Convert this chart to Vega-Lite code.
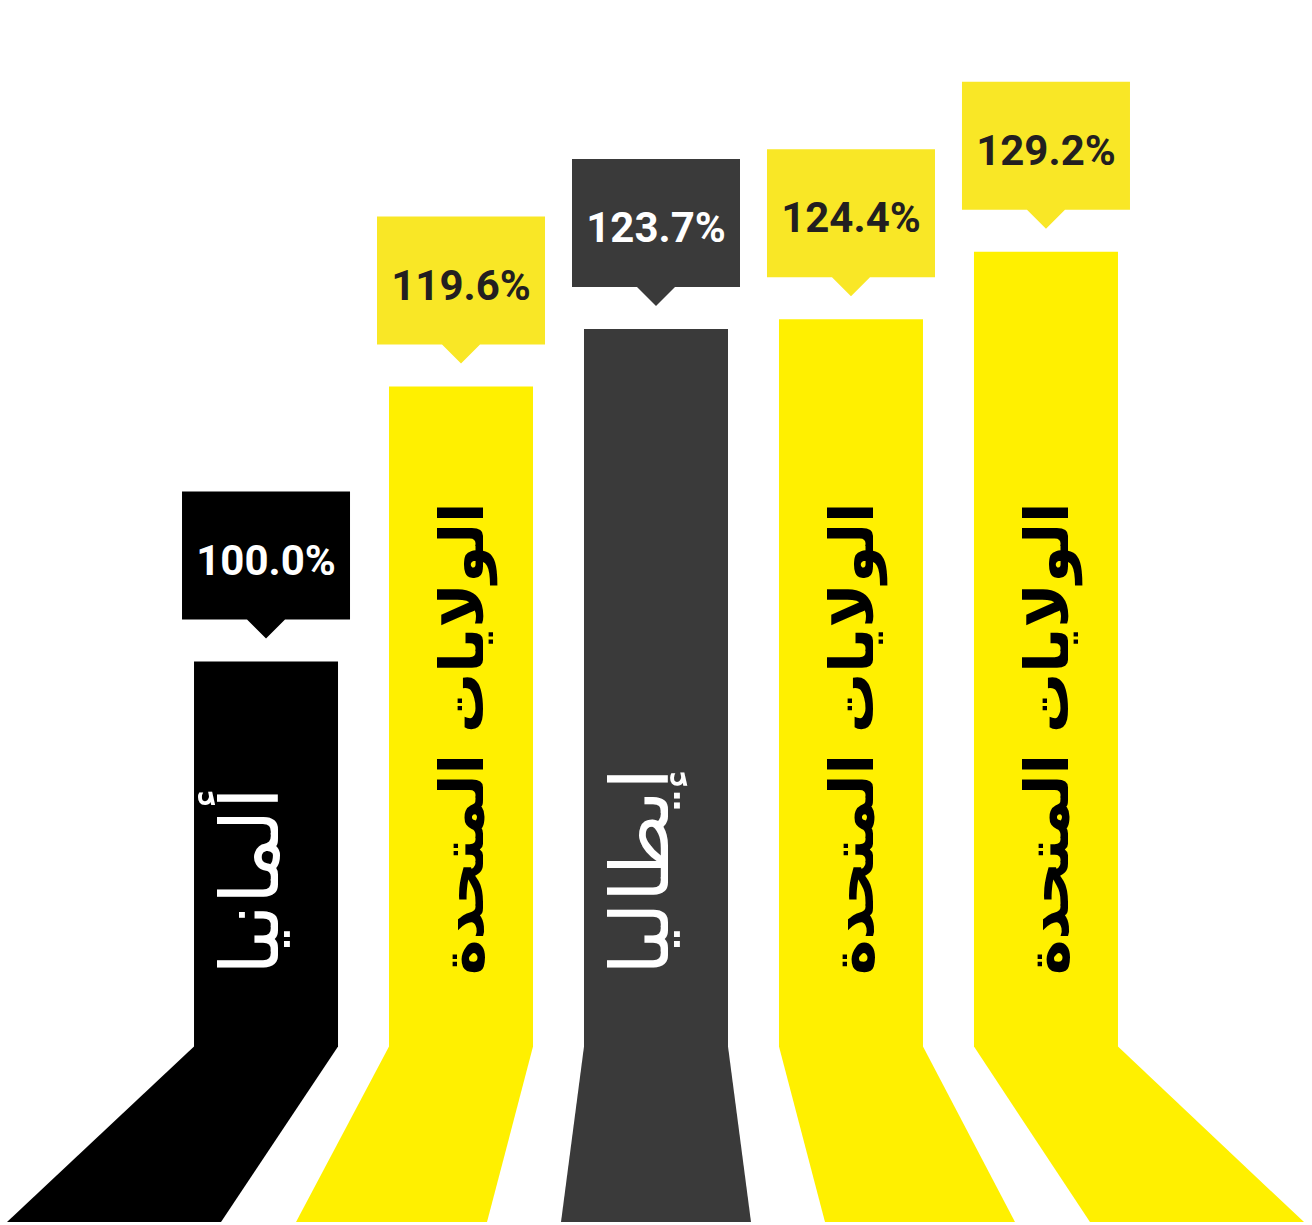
{
  "$schema": "https://vega.github.io/schema/vega-lite/v6.json",
  "width": 1312,
  "height": 1225,
  "padding": 0,
  "autosize": {"type": "none"},
  "background": "#ffffff",
  "config": {"view": {"stroke": null}},
  "data": {
    "values": [
      {"id": 1, "label": "ألمانيا", "value": 1.000},
      {"id": 2, "label": "الولايات المتحدة", "value": 1.196},
      {"id": 3, "label": "إيطاليا", "value": 1.237},
      {"id": 4, "label": "الولايات المتحدة", "value": 1.244},
      {"id": 5, "label": "الولايات المتحدة", "value": 1.292}
    ]
  },
  "encoding": {
    "x": {"field": "id", "type": "ordinal", "axis": null, "scale": {"paddingInner": 0.2615, "paddingOuter": 0.995}}
  },
  "layer": [
    {
      "mark": {"type": "bar", "cornerRadius": 0},
      "encoding": {
        "y": {"field": "value", "type": "quantitative", "axis": null, "scale": {"domain": [0.5984, 1.4715], "zero": false, "nice": false}},
        "y2": {"datum": 0.7252},
        "color": {"field": "label", "type": "nominal", "legend": null, "scale": {"domain": ["ألمانيا", "الولايات المتحدة", "إيطاليا"], "range": ["#000000", "#FFF000", "#3A3A3A"]}}
      }
    },
    {
      "mark": {"type": "point", "filled": true, "opacity": 1, "size": 40000, "strokeWidth": 0},
      "encoding": {
        "y": {"datum": 0.7252, "type": "quantitative", "axis": null, "scale": {"domain": [0.5984, 1.4715], "zero": false, "nice": false}},
        "shape": {"field": "id", "type": "nominal", "legend": null, "scale": {"domain": [1, 2, 3, 4, 5], "range": [
          "M-0.72,-0.005L0.72,-0.005L-0.45,1.75L-2.59,1.75Z",
          "M-0.72,-0.005L0.72,-0.005L0.26,1.75L-1.65,1.75Z",
          "M-0.72,-0.005L0.72,-0.005L0.95,1.75L-0.95,1.75Z",
          "M-0.72,-0.005L0.72,-0.005L1.64,1.75L-0.26,1.75Z",
          "M-0.72,-0.005L0.72,-0.005L2.58,1.75L0.44,1.75Z"
        ]}},
        "color": {"field": "label", "type": "nominal", "legend": null, "scale": {"domain": ["ألمانيا", "الولايات المتحدة", "إيطاليا"], "range": ["#000000", "#FFF000", "#3A3A3A"]}}
      }
    },
    {
      "mark": {"type": "point", "filled": true, "opacity": 1, "size": 40000, "strokeWidth": 0,
        "shape": "M-0.84,-1.7L0.84,-1.7L0.84,-0.42L0.19,-0.42L0,-0.23L-0.19,-0.42L-0.84,-0.42Z"},
      "encoding": {
        "y": {"field": "value", "type": "quantitative", "axis": null, "scale": {"domain": [0.5984, 1.4715], "zero": false, "nice": false}},
        "color": {"field": "label", "type": "nominal", "legend": null, "scale": {"domain": ["ألمانيا", "الولايات المتحدة", "إيطاليا"], "range": ["#000000", "#F9E726", "#3A3A3A"]}}
      }
    },
    {
      "mark": {"type": "text", "font": "Roboto", "fontWeight": "bold", "fontSize": 42, "align": "center", "baseline": "alphabetic", "dy": -87},
      "encoding": {
        "y": {"field": "value", "type": "quantitative", "axis": null, "scale": {"domain": [0.5984, 1.4715], "zero": false, "nice": false}},
        "text": {"field": "value", "type": "quantitative", "format": ".1%"},
        "color": {"field": "label", "type": "nominal", "legend": null, "scale": {"domain": ["ألمانيا", "الولايات المتحدة", "إيطاليا"], "range": ["#FFFFFF", "#231F20", "#FFFFFF"]}}
      }
    },
    {
      "transform": [{"filter": "datum.label === 'الولايات المتحدة'"}],
      "mark": {"type": "text", "font": "DejaVu Sans", "fontWeight": "bold", "fontSize": 60, "angle": 270, "align": "left", "baseline": "alphabetic", "dy": 22},
      "encoding": {
        "y": {"datum": 0.7765, "type": "quantitative", "axis": null, "scale": {"domain": [0.5984, 1.4715], "zero": false, "nice": false}},
        "text": {"field": "label", "type": "nominal"},
        "color": {"value": "#000000"}
      }
    },
    {
      "transform": [{"filter": "datum.label !== 'الولايات المتحدة'"}],
      "mark": {"type": "text", "font": "DejaVu Sans", "fontWeight": "normal", "fontSize": 80, "angle": 270, "align": "left", "baseline": "alphabetic", "dy": 12},
      "encoding": {
        "y": {"datum": 0.7765, "type": "quantitative", "axis": null, "scale": {"domain": [0.5984, 1.4715], "zero": false, "nice": false}},
        "text": {"field": "label", "type": "nominal"},
        "color": {"value": "#FFFFFF"}
      }
    }
  ],
  "resolve": {"scale": {"color": "independent"}}
}
